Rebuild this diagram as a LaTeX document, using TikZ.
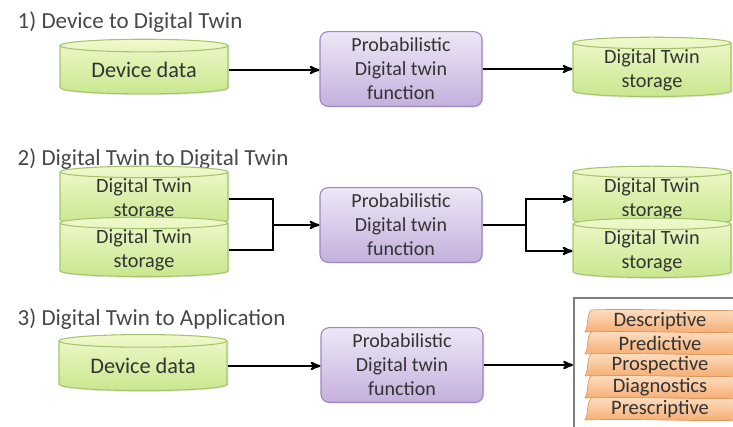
\documentclass[tikz,border=0pt]{standalone}
\usepackage{fontspec}
\setmainfont{Carlito}
\usetikzlibrary{arrows,shapes.geometric,shadows}

\definecolor{cyltop}{HTML}{F0F9CC}
\definecolor{cylbot}{HTML}{C8E78E}
\definecolor{cylline}{HTML}{A6C46E}
\definecolor{funtop}{HTML}{EEE7F6}
\definecolor{funbot}{HTML}{C4B0DD}
\definecolor{funline}{HTML}{9C86C0}
\definecolor{tabtop}{HTML}{FDE0C6}
\definecolor{tabbot}{HTML}{F5AB6E}
\definecolor{tabline}{HTML}{E0985A}
\definecolor{txtgray}{HTML}{333333}
\definecolor{framegray}{HTML}{7F7F7F}

\tikzset{
  every node/.style={text=txtgray, align=center},
  cyl/.style={cylinder, shape border rotate=90, aspect=0.12, draw=cylline, line width=0.8pt,
    top color=cyltop, bottom color=cylbot, minimum width=126pt, minimum height=41pt, inner sep=0pt,
    font=\fontsize{15.2}{18}\selectfont,
    drop shadow={opacity=0.2, shadow xshift=1pt, shadow yshift=-1pt}},
  devcyl/.style={cyl, font=\fontsize{16.7}{18}\selectfont},
  fun/.style={rectangle, rounded corners=6pt, draw=funline, line width=0.8pt,
    top color=funtop, bottom color=funbot, minimum width=121.5pt, minimum height=56pt, inner sep=0pt,
    font=\fontsize{15}{18}\selectfont,
    drop shadow={opacity=0.2, shadow xshift=1pt, shadow yshift=-1pt}},
  title/.style={anchor=base west, text=txtgray!90, font=\fontsize{17.25}{20}\selectfont},
  tab/.style={draw=tabline, line width=0.5pt, top color=tabtop, bottom color=tabbot},
  tabtext/.style={font=\fontsize{15.4}{18}\selectfont},
  frame/.style={draw=framegray, line width=1.5pt, minimum width=138pt, minimum height=100.5pt},
  conn/.style={line width=1.5pt},
  >=stealth'
}

\begin{document}
\begin{tikzpicture}[x=0.75pt, y=-0.75pt]
\useasboundingbox (0,0) rectangle (733,427);
\clip (0,0) rectangle (733,427);

\node[title] (t1) at (13,29) {1) Device to Digital Twin};
\node[devcyl] (dev1) at (144,70) {Device data};
\node[fun] (fun1) at (401,69) {Probabilistic\\Digital twin\\function};
\node[cyl, minimum width=118.5pt] (sto1) at (652,70) {Digital Twin\\storage};

\node[title] (t2) at (13,166) {2) Digital Twin to Digital Twin};
\node[cyl, minimum height=39pt] (sta) at (144,199) {Digital Twin\\storage};
\node[cyl, minimum height=39pt] (stb) at (144,250) {Digital Twin\\storage};
\node[fun] (fun2) at (401,225) {Probabilistic\\Digital twin\\function};
\node[cyl, minimum width=118.5pt, minimum height=39pt] (stc) at (652,199) {Digital Twin\\storage};
\node[cyl, minimum width=118.5pt, minimum height=39pt] (std) at (652,251) {Digital Twin\\storage};
\coordinate (jl) at (273,225);
\coordinate (jr) at (526,225);

\node[title] (t3) at (13,326) {3) Digital Twin to Application};
\node[devcyl, minimum height=42pt] (dev3) at (143,366) {Device data};
\node[fun] (fun3) at (402,365) {Probabilistic\\Digital twin\\function};
\node[frame] (apps) at (666,365) {};

\foreach \lbl [count=\i] in {Descriptive,Predictive,Prospective,Diagnostics,Prescriptive}{
  \pgfmathsetmacro{\yt}{310+22*(\i-1)}
  \pgfmathsetmacro{\yb}{\yt+22}
  \path[tab] (585,\yb) .. controls (589,\yb-7) and (586,\yt+7) .. (591,\yt)
    .. controls (640,\yt-2) and (690,\yt+2) .. (745,\yt) -- (745,\yb)
    .. controls (690,\yb+2) and (640,\yb-2) .. (585,\yb) -- cycle;
  \node[tabtext] (tab\i) at (660,\yt+11) {\lbl};
}

\draw[conn,->] (dev1.east) -- (dev1.east -| fun1.west);
\draw[conn,->] (fun1.east) -- (fun1.east -| sto1.west);
\draw[conn] (sta.east) -| (jl) |- (stb.east);
\draw[conn,->] (jl) -- (fun2.west);
\draw[conn] (fun2.east) -- (jr);
\draw[conn,->] (jr) |- (stc.west);
\draw[conn,->] (jr) |- (std.west);
\draw[conn,->] (dev3.east) -- (dev3.east -| fun3.west);
\draw[conn,->] (fun3.east) -- (fun3.east -| apps.west);
\end{tikzpicture}
\end{document}
